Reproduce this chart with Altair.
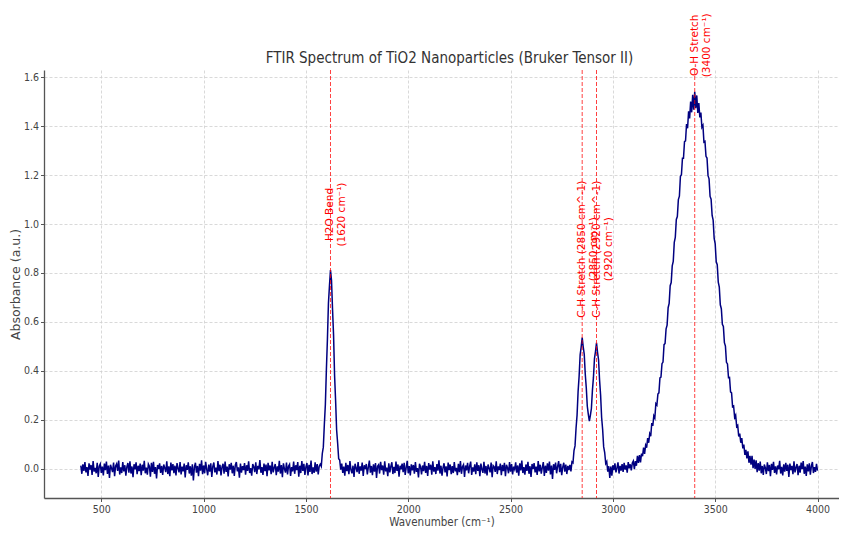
import altair as alt
import pandas as pd

# ---- spectrum samples (absorbance every 5 cm-1) ----
step = 5
# 400 .. 1565 cm-1 : baseline noise
base_a_start = 400
base_a = [
    0.012, -0.021, 0.018, -0.009, 0.027, -0.015, 0.006, -0.030, 0.022, -0.004,
    0.015, -0.026, 0.031, -0.012, 0.003, -0.019, 0.024, -0.034, 0.010, 0.019,
    -0.017, 0.008, -0.028, 0.021, -0.006, 0.029, -0.022, 0.013, -0.038, 0.016,
    0.002, -0.014, 0.025, -0.031, 0.011, 0.020, -0.009, 0.033, -0.024, 0.005,
    -0.018, 0.027, -0.011, 0.014, -0.029, 0.007, 0.023, -0.016, 0.030, -0.020,
    0.009, -0.035, 0.018, -0.003, 0.026, -0.023, 0.012, -0.010, 0.021, -0.027,
    0.016, -0.008, 0.032, -0.019, 0.004, -0.025, 0.019, 0.010, -0.033, 0.024,
    -0.013, 0.028, -0.021, 0.006, -0.040, 0.015, -0.002, 0.022, -0.017, 0.011,
    -0.026, 0.017, 0.003, -0.014, 0.030, -0.022, 0.009, -0.031, 0.025, -0.007,
    0.019, -0.018, 0.012, -0.028, 0.023, 0.001, -0.015, 0.027, -0.024, 0.008,
    -0.011, 0.021, -0.036, 0.014, -0.005, 0.026, -0.020, 0.010, -0.029, 0.018,
    -0.048, 0.006, 0.024, -0.016, 0.011, -0.031, 0.020, -0.008, 0.034, -0.023,
    0.013, -0.019, 0.028, -0.002, -0.027, 0.017, -0.012, 0.022, -0.034, 0.009,
    0.025, -0.015, 0.004, -0.024, 0.031, -0.010, 0.016, -0.028, 0.007, 0.020,
    -0.021, 0.029, -0.013, 0.008, -0.032, 0.018, -0.004, 0.024, -0.019, 0.012,
    -0.030, 0.015, 0.027, -0.011, 0.005, -0.037, 0.021, -0.016, 0.010, -0.006,
    0.023, -0.025, 0.014, -0.009, 0.030, -0.018, 0.002, -0.029, 0.019, 0.008,
    -0.014, 0.026, -0.022, 0.011, -0.003, 0.035, -0.017, 0.006, -0.026, 0.021,
    -0.010, 0.017, -0.031, 0.024, -0.007, 0.013, -0.023, 0.028, -0.015, 0.004,
    0.019, -0.027, 0.009, -0.012, 0.032, -0.020, 0.015, -0.035, 0.022, -0.001,
    -0.016, 0.025, -0.024, 0.010, 0.018, -0.030, 0.006, -0.011, 0.029, -0.021,
    0.014, -0.006, 0.027, -0.033, 0.012, -0.018, 0.031, -0.009, 0.020, -0.026,
    0.007, 0.023, -0.028, 0.016, -0.013, 0.033, -0.022, 0.005, -0.017, 0.026,
    -0.012, 0.019, -0.024, 0.010,
]
# 1570 .. 1670 cm-1 : H2O bending band
h2o_start = 1570
h2o = [0.018, 0.009, 0.062, 0.088, 0.181, 0.262, 0.405, 0.528, 0.676, 0.748,
       0.812, 0.770, 0.652, 0.547, 0.381, 0.279, 0.158, 0.104, 0.041, 0.035,
       -0.004]
# 1675 .. 2785 cm-1 : baseline noise
base_b_start = 1675
base_b = [
    0.021, -0.017, 0.008, -0.029, 0.024, -0.010, 0.015, -0.023, 0.031, -0.005,
    -0.019, 0.012, -0.034, 0.020, 0.003, -0.014, 0.027, -0.021, 0.009, -0.008,
    0.025, -0.030, 0.014, -0.002, 0.019, -0.024, 0.006, 0.033, -0.016, 0.011,
    -0.027, 0.018, -0.012, 0.023, -0.038, 0.010, 0.016, -0.020, 0.028, -0.006,
    0.013, -0.025, 0.030, -0.011, 0.004, -0.031, 0.022, -0.015, 0.009, 0.026,
    -0.022, 0.007, -0.018, 0.029, -0.009, 0.017, -0.033, 0.012, -0.003, 0.021,
    -0.014, 0.024, -0.026, 0.005, 0.032, -0.019, 0.010, -0.028, 0.018, -0.007,
    0.015, -0.021, 0.027, -0.013, 0.002, -0.036, 0.020, 0.008, -0.024, 0.013,
    -0.010, 0.028, -0.017, 0.011, -0.030, 0.023, -0.004, 0.016, -0.025, 0.030,
    -0.012, 0.006, -0.022, 0.019, -0.008, 0.034, -0.020, 0.012, -0.029, 0.004,
    0.022, -0.015, 0.009, -0.032, 0.025, -0.006, 0.017, -0.023, 0.010, -0.018,
    0.027, -0.011, 0.003, -0.027, 0.020, -0.014, 0.031, -0.021, 0.008, 0.016,
    -0.034, 0.013, -0.007, 0.024, -0.019, 0.010, 0.029, -0.026, 0.005, -0.012,
    0.018, -0.023, 0.026, -0.009, 0.014, -0.031, 0.021, -0.003, -0.017, 0.028,
    -0.020, 0.011, -0.028, 0.017, 0.002, -0.015, 0.025, -0.035, 0.012, 0.007,
    -0.013, 0.030, -0.022, 0.009, -0.006, 0.021, -0.027, 0.015, -0.010, 0.024,
    -0.031, 0.016, 0.004, -0.019, 0.027, -0.012, 0.019, -0.024, 0.008, -0.003,
    0.026, -0.016, 0.013, -0.029, 0.022, -0.007, 0.033, -0.018, 0.006, -0.025,
    0.017, -0.009, 0.028, -0.021, 0.010, -0.034, 0.019, -0.002, 0.023, -0.015,
    0.008, -0.026, 0.031, -0.011, 0.016, -0.020, 0.004, 0.027, -0.030, 0.012,
    -0.017, 0.022, -0.008, 0.029, -0.024, 0.013, -0.042, 0.018, -0.005, 0.025,
    -0.019, 0.009, 0.031, -0.014, 0.020, -0.027, 0.006, 0.024, -0.012, 0.017,
    -0.022, 0.011, -0.006,
]
# 2790 .. 2980 cm-1 : C-H stretching doublet
ch_start = 2790
ch = [0.015, -0.011, 0.028, 0.024, 0.074, 0.093, 0.165, 0.219, 0.315, 0.378,
      0.465, 0.497, 0.536, 0.498, 0.468, 0.387, 0.331, 0.255, 0.222, 0.194,
      0.218, 0.246, 0.320, 0.373, 0.450, 0.479, 0.514, 0.476, 0.445, 0.362,
      0.301, 0.209, 0.160, 0.089, 0.066, 0.021, 0.029, -0.012, 0.010]
# 2985 .. 3095 cm-1 : baseline noise
base_c_start = 2985
base_c = [-0.038, 0.009, -0.029, 0.014, -0.006, 0.022, -0.015, 0.003, 0.026, -0.020,
          0.011, -0.008, 0.019, -0.013, 0.024, -0.004, 0.013, -0.016, 0.027, 0.001,
          0.018, -0.007, 0.023]
# 3100 .. 3700 cm-1 : broad O-H stretching band
oh_start = 3100
oh = [
    0.031, -0.002, 0.031, 0.012, 0.052, 0.024, 0.055, 0.026, 0.062, 0.051,
    0.086, 0.060, 0.096, 0.086, 0.125, 0.106, 0.143, 0.133, 0.186, 0.175,
    0.216, 0.207, 0.266, 0.260, 0.305, 0.310, 0.371, 0.374, 0.429, 0.436,
    0.507, 0.512, 0.572, 0.587, 0.658, 0.676, 0.748, 0.761, 0.829, 0.847,
    0.925, 0.946, 1.019, 1.031, 1.100, 1.114, 1.195, 1.202, 1.269, 1.269,
    1.337, 1.340, 1.409, 1.392, 1.461, 1.432, 1.501, 1.457, 1.529, 1.468,
    1.541, 1.474, 1.526, 1.454, 1.495, 1.436, 1.456, 1.396, 1.404, 1.335,
    1.338, 1.277, 1.270, 1.198, 1.185, 1.113, 1.102, 1.035, 1.016, 0.941,
    0.919, 0.846, 0.834, 0.763, 0.742, 0.670, 0.654, 0.590, 0.581, 0.515,
    0.501, 0.435, 0.428, 0.372, 0.373, 0.314, 0.310, 0.253, 0.256, 0.210,
    0.219, 0.172, 0.177, 0.132, 0.143, 0.106, 0.125, 0.083, 0.098, 0.056,
    0.077, 0.042, 0.071, 0.024, 0.052, 0.016, 0.052, 0.002, 0.037, -0.001,
    0.034,
]
# 3705 .. 4000 cm-1 : baseline noise
base_d_start = 3705
base_d = [
    -0.014, 0.023, -0.008, 0.029, -0.019, 0.011, -0.026, 0.017, 0.004, -0.022,
    0.026, -0.010, 0.015, -0.031, 0.020, -0.005, 0.028, -0.017, 0.009, -0.024,
    0.013, -0.003, 0.032, -0.020, 0.007, -0.028, 0.018, -0.012, 0.024, -0.009,
    0.016, -0.034, 0.021, -0.006, 0.011, -0.023, 0.030, -0.015, 0.005, 0.019,
    -0.027, 0.012, -0.016, 0.025, -0.002, 0.031, -0.021, 0.008, -0.030, 0.018,
    -0.011, 0.022, -0.025, 0.010, 0.027, -0.018, 0.006, -0.013, 0.020, -0.008,
]

segments = [(base_a_start, base_a), (h2o_start, h2o), (base_b_start, base_b),
            (ch_start, ch), (base_c_start, base_c), (oh_start, oh),
            (base_d_start, base_d)]
wn, ab = [], []
for start, vals in segments:
    for i, v in enumerate(vals):
        wn.append(start + step * i)
        ab.append(v)
spec = pd.DataFrame({"wavenumber": wn, "absorbance": ab})

# ---- annotations ----
peak_pos = [1620, 2850, 2920, 3400]
peak_label = [
    "H2O Bend\n(1620 cm\u207b\u00b9)",
    "C-H Stretch (2850 cm^-1)\n(2850 cm\u207b\u00b9)",
    "C-H Stretch (2920 cm^-1)\n(2920 cm\u207b\u00b9)",
    "O-H Stretch\n(3400 cm\u207b\u00b9)",
]
label_center = [1.039, 0.897, 0.897, 1.731]
anno = pd.DataFrame({"pos": peak_pos, "label": peak_label, "yc": label_center})

x_ticks = [500, 1000, 1500, 2000, 2500, 3000, 3500, 4000]
y_ticks = [0.0, 0.2, 0.4, 0.6, 0.8, 1.0, 1.2, 1.4, 1.6]

COND = "DejaVu Sans Condensed, Liberation Sans Narrow, DejaVu Sans, sans-serif"
REG = "DejaVu Sans, sans-serif"

xscale = alt.Scale(domain=[220, 4105], nice=False, zero=False)
yscale = alt.Scale(domain=[-0.12, 1.63], nice=False, zero=False)

x_axis = alt.Axis(values=x_ticks, format="d", title="Wavenumber (cm\u207b\u00b9)",
                  labelFont=COND, labelFontSize=10.5, labelColor="#444",
                  titleFont=COND, titleFontSize=11.5, titleFontWeight="normal",
                  titleColor="#444", tickSize=3.5, tickColor="#555",
                  domainColor="#555", domainWidth=1.3, labelPadding=3,
                  titlePadding=1, gridColor="#cfcfcf", gridDash=[3, 2],
                  gridWidth=0.8)
y_axis = alt.Axis(values=y_ticks, format=".1f", title="Absorbance (a.u.)",
                  labelFont=COND, labelFontSize=10.5, labelColor="#444",
                  titleFont=REG, titleFontSize=12.5, titleFontWeight="normal",
                  titleColor="#444", tickSize=3.5, tickColor="#555",
                  domainColor="#555", domainWidth=1.3, labelPadding=2,
                  titlePadding=1, gridColor="#cfcfcf", gridDash=[3, 2],
                  gridWidth=0.8)

line = alt.Chart(spec).mark_line(color="navy", strokeWidth=1.5, clip=True).encode(
    x=alt.X("wavenumber:Q", scale=xscale, axis=x_axis),
    y=alt.Y("absorbance:Q", scale=yscale, axis=y_axis),
)

rules = alt.Chart(anno).mark_rule(color="red", strokeDash=[4, 2], strokeWidth=1,
                                  opacity=0.75).encode(
    x=alt.X("pos:Q", scale=xscale),
)

texts = alt.Chart(anno).mark_text(angle=270, align="center", baseline="middle",
                                  lineBreak="\n", font=REG, fontSize=10.5,
                                  lineHeight=12, color="red").encode(
    x=alt.X("pos:Q", scale=xscale),
    y=alt.Y("yc:Q", scale=yscale),
    text="label:N",
)

chart = alt.layer(line, rules, texts).properties(
    width=795,
    height=428,
    title=alt.TitleParams("FTIR Spectrum of TiO2 Nanoparticles (Bruker Tensor II)",
                          font=COND, fontSize=15, fontWeight="normal",
                          color="#333", anchor="middle", offset=4, dx=8, dy=57),
    autosize=alt.AutoSizeParams(type="none"),
    padding={"left": 36, "top": 62, "right": 0, "bottom": 32},
).configure_view(stroke=None)

chart.save("out.html", embed_options={"renderer": "svg", "actions": False})
